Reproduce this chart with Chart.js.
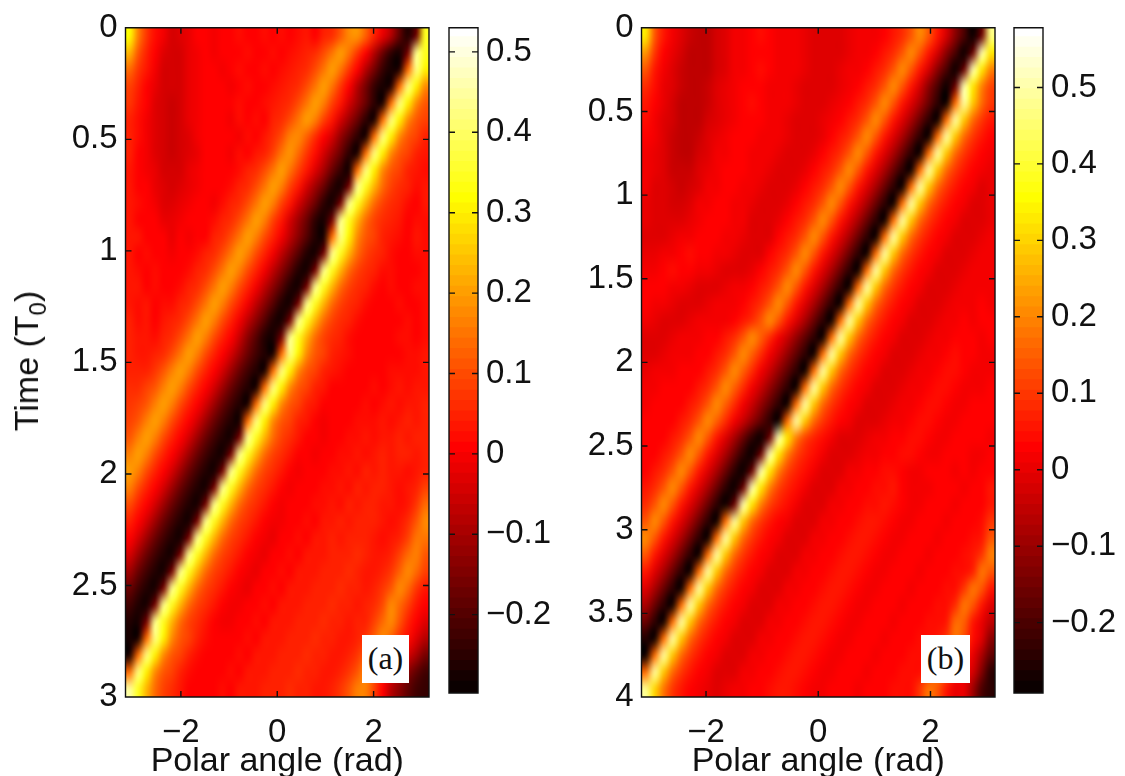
<!DOCTYPE html>
<html>
<head>
<meta charset="utf-8">
<title>Polar angle vs time</title>
<script src="https://cdn.jsdelivr.net/npm/chart.js@4"></script>
<style>
    html, body { margin: 0; padding: 0; background: #fff; overflow: hidden; width: 1125px; height: 776px; }
    canvas { position: absolute; top: 0; }
    .tag { position: absolute; top: 635px; height: 48px; background: #fff; color: #111; text-align: center;
           font: 32px/46px "Liberation Serif", serif; }
    .ylab { position: absolute; left: 26px; top: 361px; transform: translate(-50%, -50%) rotate(-90deg);
            white-space: nowrap; color: #111; font: 34px/40px "Liberation Sans", Arial, sans-serif; }
    .ylab sub { font-size: 24px; line-height: 0; vertical-align: -8px; }
</style>
</head>
<body>
<canvas id="heatA" width="440" height="784" style="left:0"></canvas>
<canvas id="barA" width="115" height="784" style="left:440px"></canvas>
<canvas id="heatB" width="450" height="784" style="left:555px"></canvas>
<canvas id="barB" width="120" height="784" style="left:1005px"></canvas>
<div class="ylab">Time (T<sub>0</sub>)</div>
<div class="tag" style="left:362px;width:47px">(a)</div>
<div class="tag" style="left:921px;width:49px">(b)</div>
<script>
// Tick labels
const angleTicks = [-2, 0, 2];
const timeTicksA = [0, 0.5, 1, 1.5, 2, 2.5, 3];
const timeTicksB = [0, 0.5, 1, 1.5, 2, 2.5, 3, 3.5, 4];
const barTicksA = [-0.2, -0.1, 0, 0.1, 0.2, 0.3, 0.4, 0.5];
const barTicksB = [-0.2, -0.1, 0, 0.1, 0.2, 0.3, 0.4, 0.5];

// Colour limits
const limitsA = [-0.2975, 0.53];
const limitsB = [-0.292, 0.578];

// Panel (a) values, in hundredths, one line per time step
const fieldA = [
[32,16,7,2,-1,-4,-3,-2,0,0,-1,1,0,2,1,0,2,1,2,0,2,3,1,4,6,11,17,19,12,5,-2,-9,-19,-27,-18,34],
[22,11,5,0,-3,-4,-4,-2,-1,0,-1,1,1,0,2,0,1,2,0,2,3,4,6,10,15,20,15,7,0,-8,-17,-25,-28,-16,43,34],
[14,7,3,-1,-4,-5,-4,-2,-1,0,1,-1,1,2,0,1,2,0,2,3,4,6,10,15,20,15,7,0,-8,-16,-24,-28,-27,14,42,30],
[9,5,1,-2,-4,-5,-4,-2,-1,0,1,0,-1,1,2,0,1,2,3,4,6,10,15,20,15,7,0,-8,-16,-24,-28,-27,14,42,30,18],
[7,3,0,-3,-5,-6,-4,-2,-1,0,0,1,0,2,1,0,2,3,4,6,10,15,20,16,9,3,-4,-11,-18,-25,-28,14,42,30,18,11],
[5,2,-1,-3,-5,-6,-5,-2,-1,0,1,0,-1,2,1,2,0,4,6,10,15,20,16,9,3,-4,-11,-18,-25,-28,14,42,30,18,11,8],
[4,2,-1,-3,-5,-6,-4,-3,-1,0,1,0,1,-1,2,1,3,6,10,16,18,12,6,1,-5,-12,-19,-25,-28,14,42,30,18,11,8,5],
[4,1,-1,-3,-4,-6,-4,-3,-2,0,0,1,-1,2,1,3,5,9,15,19,14,7,2,-4,-11,-18,-25,-28,14,42,30,18,11,8,5,3],
[3,1,-1,-2,-4,-5,-4,-2,-1,0,1,0,1,2,4,6,10,15,20,15,8,3,-3,-10,-17,-24,-28,14,42,30,18,11,8,5,3,2],
[3,1,0,-2,-3,-5,-3,-2,-1,1,0,1,2,4,6,10,15,20,16,9,3,-4,-11,-18,-25,-28,-16,43,34,22,14,9,6,4,2,3],
[3,2,0,-1,-3,-3,-2,-1,0,1,-1,2,4,6,10,15,20,16,9,3,-4,-11,-18,-25,-28,-16,43,34,22,14,9,6,4,2,1,3],
[3,1,1,0,-2,-2,-1,0,0,1,2,4,6,10,15,20,16,9,3,-4,-11,-18,-25,-28,-16,43,34,22,14,9,6,4,3,1,2,2],
[3,3,0,1,0,-2,0,-1,1,1,4,6,10,15,20,16,10,5,-1,-7,-13,-20,-26,-28,14,42,30,18,11,8,5,3,2,1,3,2],
[3,1,2,1,1,-1,1,0,2,4,6,10,15,20,16,10,5,-1,-7,-14,-20,-26,-28,-16,43,34,22,14,9,6,4,2,1,0,2,2],
[3,2,0,2,0,1,0,2,4,6,10,15,20,16,10,5,-1,-7,-14,-20,-26,-28,-16,43,34,22,14,9,6,4,2,2,1,1,0,2],
[3,3,1,2,0,1,2,4,6,10,15,20,16,10,5,-1,-7,-14,-20,-26,-28,-16,43,34,22,14,9,6,4,2,1,2,0,1,2,2],
[3,2,3,1,2,2,4,6,10,15,20,16,10,5,-1,-7,-14,-20,-26,-28,-16,43,34,22,14,9,6,4,2,1,1,0,2,1,1,2],
[4,2,3,1,3,4,6,10,15,20,16,10,5,-1,-7,-14,-20,-26,-28,-16,43,34,22,14,9,6,4,2,1,0,1,1,0,2,1,2],
[4,3,3,2,4,6,10,15,20,16,10,5,0,-6,-13,-20,-26,-28,-16,43,34,22,14,9,6,4,2,1,0,0,1,0,2,2,1,2],
[5,3,3,4,6,10,15,20,16,10,5,0,-5,-11,-17,-23,-27,-28,14,42,30,18,11,8,5,3,2,1,0,1,1,1,1,2,2,3],
[5,4,5,7,11,16,20,16,10,5,0,-5,-11,-17,-23,-27,-28,14,42,30,18,11,8,5,3,2,1,0,0,1,1,2,2,2,2,3],
[6,6,8,11,16,20,16,10,5,0,-5,-11,-17,-23,-27,-28,14,42,30,18,11,8,5,3,1,0,0,1,1,2,1,2,3,2,3,3],
[7,8,11,16,20,16,10,5,0,-5,-11,-17,-23,-27,-28,14,42,30,18,11,8,5,3,1,0,0,1,1,2,1,2,3,2,3,3,4],
[8,11,16,20,16,10,5,0,-5,-11,-17,-23,-27,-28,14,42,30,18,11,8,5,3,1,-1,0,1,1,2,2,2,3,2,3,4,3,4],
[11,16,20,16,10,5,0,-5,-11,-17,-23,-27,-28,-16,43,34,22,14,9,6,3,1,0,-1,1,1,2,2,3,2,3,3,4,3,4,4],
[16,20,16,10,5,0,-5,-11,-17,-23,-27,-28,-16,43,34,22,14,9,6,3,1,0,-1,0,1,2,2,3,2,3,4,3,4,4,3,4],
[20,16,10,5,0,-5,-11,-17,-23,-27,-28,-16,43,34,22,14,9,6,3,1,-1,0,1,1,2,2,3,2,4,3,4,3,3,2,3,5],
[16,10,5,0,-5,-11,-17,-23,-27,-28,-16,43,34,22,14,9,6,3,0,-1,0,1,1,2,2,3,2,4,3,4,4,3,2,3,4,8],
[10,5,0,-5,-11,-17,-23,-27,-28,-16,43,34,22,14,9,6,3,0,-1,0,1,1,2,2,3,2,4,3,4,5,3,3,2,3,7,13],
[5,0,-5,-11,-17,-23,-27,-28,-16,43,34,22,14,9,6,3,0,-1,-1,1,1,2,1,3,3,4,3,4,5,4,3,2,3,6,11,17],
[0,-5,-11,-17,-23,-27,-28,-16,43,34,22,14,9,6,3,0,-1,-2,0,1,2,1,3,3,4,3,5,4,5,3,2,3,5,9,15,15],
[-5,-11,-17,-23,-27,-28,-16,43,34,22,14,9,6,3,0,-1,-2,0,1,2,1,3,3,3,4,5,4,6,4,3,3,4,8,14,16,11],
[-11,-17,-23,-27,-28,-16,43,34,22,14,9,6,3,0,-1,-2,0,1,2,1,3,3,3,4,5,4,6,5,3,3,4,7,12,17,13,8],
[-17,-23,-27,-28,-16,43,34,22,14,9,6,3,0,-1,-2,0,1,2,1,3,3,3,4,5,4,6,5,4,3,4,7,11,17,13,7,3],
[-23,-27,-28,-16,43,34,22,14,9,6,3,0,-1,-1,0,1,2,1,3,3,3,4,5,4,6,5,4,3,4,6,10,17,14,8,3,1],
[-27,-28,-16,43,34,22,14,9,6,3,0,-1,-1,0,1,2,1,3,3,3,4,5,4,6,5,4,3,4,5,8,14,17,11,5,1,-3],
[-28,-28,14,42,30,18,11,8,5,2,0,0,0,1,2,1,3,3,3,4,5,4,6,5,4,3,3,5,7,12,17,12,6,2,-3,-9],
[-28,14,42,30,18,11,8,5,2,1,0,1,1,2,1,3,3,3,4,5,4,6,5,4,3,3,4,7,12,17,12,6,0,-5,-10,-16],
[14,42,30,18,11,8,5,2,1,0,1,1,2,1,3,3,3,4,5,4,6,5,4,3,3,4,7,11,17,11,4,-2,-8,-14,-19,-22],
[44,34,22,14,9,6,3,1,1,0,1,2,1,3,3,3,4,5,4,6,5,4,3,3,4,7,11,16,16,8,0,-8,-14,-19,-23,-24]
];

// Panel (b) values, in hundredths, one line per time step
const fieldB = [
[33,14,5,1,-2,-4,-5,-5,-3,-1,1,2,3,4,3,2,2,1,0,-1,-2,-2,-1,0,1,1,2,3,5,8,13,20,14,5,-3,-12,-21,-28,-16,46],
[22,9,3,0,-3,-5,-5,-5,-3,-1,1,2,3,3,3,2,2,1,0,-1,-2,-2,-1,0,1,2,3,5,8,13,20,14,5,-3,-12,-21,-28,-16,50,32],
[14,6,1,-1,-4,-5,-6,-5,-3,-1,1,2,3,4,3,2,1,1,0,-1,-2,-1,0,1,2,3,5,8,13,20,14,5,-3,-12,-21,-28,-16,50,32,19],
[8,4,0,-2,-4,-6,-6,-4,-2,0,1,3,3,3,2,2,1,0,-1,-2,-2,-1,0,1,3,5,8,13,20,14,5,-3,-12,-21,-28,-16,50,32,19,11],
[5,3,0,-3,-5,-6,-5,-4,-2,0,2,3,4,3,2,2,1,0,-1,-2,-1,0,1,3,5,8,13,20,14,6,-1,-8,-16,-24,-28,16,49,28,16,10],
[4,2,-1,-3,-5,-6,-5,-3,-1,0,2,3,3,3,2,1,0,-1,-2,-1,0,1,3,5,8,13,20,14,6,-1,-8,-16,-24,-28,16,49,28,16,10,5],
[3,1,-2,-4,-5,-6,-4,-2,0,1,3,3,3,2,2,1,0,-1,-2,-1,0,3,5,8,13,20,14,6,-1,-8,-16,-24,-28,16,49,28,16,10,5,3],
[2,0,-2,-4,-5,-5,-3,-1,1,2,3,3,2,2,1,0,-1,-2,-1,0,3,5,8,13,20,14,6,-1,-8,-16,-24,-28,16,49,28,16,10,5,3,1],
[1,0,-2,-4,-4,-4,-2,0,1,3,3,3,2,1,0,-1,-2,-1,0,3,5,8,13,20,14,6,-1,-8,-16,-24,-28,16,49,28,16,10,5,3,1,0],
[1,-1,-2,-3,-4,-3,-1,1,2,3,3,2,2,0,-1,-2,-1,0,3,5,8,13,20,14,6,-1,-8,-16,-24,-28,16,49,28,16,10,5,3,1,-1,0],
[0,-1,-2,-3,-3,-1,1,2,3,3,2,1,0,-1,-2,-1,0,3,5,8,13,20,14,6,-1,-8,-16,-24,-28,16,49,28,16,10,5,3,1,-1,-1,0],
[0,-1,-2,-2,-1,0,2,3,3,3,2,1,-1,-2,-2,0,3,5,8,13,20,14,6,-1,-8,-16,-24,-28,16,49,28,16,10,5,3,1,-1,-2,-1,0],
[-1,-1,-1,0,1,2,3,3,3,2,1,0,-1,-2,-1,3,5,8,13,20,14,6,-1,-8,-16,-24,-28,16,49,28,16,10,5,3,1,-1,-2,-1,0,1],
[0,0,1,2,3,4,3,3,2,1,0,-1,-2,-1,3,5,8,13,20,14,6,-1,-8,-16,-24,-28,16,49,28,16,10,5,3,1,-1,-2,-1,0,1,1],
[1,2,3,4,3,3,2,1,0,-1,-2,-1,0,3,5,8,13,20,14,6,-1,-8,-16,-24,-28,16,49,28,16,10,5,3,1,-1,-2,-1,0,1,1,2],
[3,3,3,2,1,0,-1,-2,-1,0,1,2,3,5,8,13,20,14,6,-1,-8,-16,-24,-28,16,49,28,16,10,5,3,1,-1,-2,-1,0,1,1,2,2],
[3,2,1,0,-1,-2,-1,0,1,1,2,3,5,8,13,20,14,6,-1,-8,-16,-24,-28,16,49,28,16,10,5,3,1,-1,-2,-1,0,1,2,2,3,2],
[1,0,-1,-2,-1,0,1,1,2,2,3,5,8,13,20,14,6,-1,-8,-16,-24,-28,16,49,28,16,10,5,3,1,-1,-2,-1,0,1,2,3,2,3,3],
[-1,-2,-1,0,1,2,2,3,3,5,8,13,20,15,8,2,-4,-11,-18,-25,-28,16,49,28,16,10,5,3,1,-1,-2,-1,0,1,2,3,3,3,2,3],
[-2,-1,0,1,2,2,3,3,5,8,13,20,15,8,2,-4,-11,-18,-25,-28,16,49,28,16,10,5,3,1,-1,-2,-1,0,1,2,3,4,3,3,2,2],
[0,1,2,2,3,3,3,5,8,13,20,15,8,2,-4,-11,-18,-25,-28,16,49,28,16,10,5,3,1,-1,-2,-1,0,1,2,3,4,4,3,2,2,2],
[2,2,3,3,3,3,5,8,13,20,15,8,2,-4,-11,-18,-25,-28,16,49,28,16,10,5,3,1,-1,-2,-1,0,1,2,3,4,4,3,2,2,2,3],
[2,3,3,3,3,5,8,13,20,15,8,2,-4,-11,-18,-25,-28,16,49,28,16,10,5,3,1,-1,-2,-1,0,1,2,3,4,4,3,2,2,3,3,3],
[3,3,3,3,5,8,13,20,15,8,2,-4,-11,-18,-25,-28,16,49,28,16,10,5,3,1,-1,-2,-1,0,1,2,3,4,4,3,2,2,3,3,3,3],
[3,3,3,5,8,13,20,14,6,-1,-8,-16,-24,-28,-16,50,32,19,11,7,4,2,-1,-2,-1,0,1,2,3,3,4,4,3,2,2,3,3,3,3,2],
[3,3,5,8,13,20,14,6,-1,-8,-16,-24,-28,-16,50,32,19,11,7,4,2,-1,-2,-1,0,1,2,3,3,4,4,3,2,2,3,3,3,2,2,3],
[3,5,8,13,20,14,6,-1,-8,-16,-24,-28,-16,50,32,19,11,7,4,2,-1,-2,-1,1,2,3,3,4,4,3,2,2,3,3,3,2,3,2,3,3],
[5,8,13,20,14,6,-1,-8,-16,-24,-28,-16,50,32,19,11,7,4,2,-1,-2,-1,1,2,3,3,4,4,5,3,2,2,2,3,3,3,2,3,3,5],
[8,13,20,14,6,-1,-8,-16,-24,-28,-16,50,32,19,11,7,4,2,-1,-2,-1,1,2,3,3,4,4,5,4,3,2,2,3,3,3,2,3,3,3,6],
[13,20,14,6,-1,-8,-16,-24,-28,16,49,28,16,10,5,3,1,-1,-2,-1,1,2,3,3,4,5,5,4,3,2,2,3,3,3,2,3,3,3,4,9],
[20,14,6,-1,-8,-16,-24,-28,16,49,28,16,10,5,3,1,-1,-2,-1,1,2,3,3,4,5,5,4,3,2,2,3,3,3,2,3,3,3,4,6,13],
[14,6,-1,-8,-16,-24,-28,16,49,28,16,10,5,3,1,-1,-2,-1,1,2,3,3,4,5,5,4,3,2,2,3,3,3,2,3,3,3,4,5,10,19],
[6,-1,-8,-16,-24,-28,16,49,28,16,10,5,3,1,-1,-2,-1,1,2,3,3,4,5,5,4,3,2,2,3,3,3,2,3,3,3,4,4,7,18,13],
[-1,-8,-16,-24,-28,16,49,28,16,10,5,3,1,-1,-2,-1,1,2,3,3,4,5,5,4,3,2,2,3,3,3,2,3,3,3,4,4,9,18,13,5],
[-8,-16,-24,-28,16,49,28,16,10,5,3,1,-1,-2,-1,1,2,3,3,4,5,5,4,3,2,2,3,3,3,2,3,3,3,4,4,8,18,14,5,-1],
[-16,-24,-28,16,49,28,16,10,5,3,1,-1,-2,-1,1,2,3,3,4,5,5,4,3,2,2,3,3,3,2,3,3,3,4,4,6,16,15,6,0,-6],
[-26,-28,16,49,28,16,10,5,3,1,-1,-2,-1,1,2,3,3,4,5,5,4,3,2,2,3,3,3,2,3,3,3,4,4,5,9,18,12,4,-2,-12],
[-28,16,49,28,16,10,5,3,1,-1,-2,-1,1,2,3,3,4,5,5,4,3,2,2,3,3,3,2,3,3,3,4,4,4,8,18,13,5,0,-8,-18],
[16,49,28,16,10,5,3,1,-1,-2,-1,1,2,3,3,4,5,5,4,3,2,2,3,3,3,2,3,3,3,4,4,4,8,18,13,6,2,-3,-14,-24],
[48,30,18,10,6,3,1,0,-1,0,1,2,3,3,4,5,5,4,3,2,2,3,3,3,2,3,3,3,4,4,4,9,18,13,6,0,0,-10,-20,-25]
];

const tickFont = { family: '"Liberation Sans", Arial, sans-serif', size: 33 };
const titleFont = { family: '"Liberation Sans", Arial, sans-serif', size: 34 };
const angleLimit = 3.15;
const tickLen = 6;

// MATLAB "hot", 64 steps
function hotColor(v, limits) {
    let t = (v - limits[0]) / (limits[1] - limits[0]);
    let k = Math.max(0, Math.min(63, Math.floor(t * 64))) + 1;
    let r = Math.min(1, k / 24), g = Math.max(0, Math.min(1, (k - 24) / 24)), b = Math.max(0, (k - 48) / 16);
    return `rgb(${Math.round(r * 255)},${Math.round(g * 255)},${Math.round(b * 255)})`;
}

function minusLabel(value) {
    return String(value).replace('-', '\u2212');
}

// Paints the cells of the first dataset, placed with the chart's scales
const heatPlugin = {
    id: 'heatCells',
    beforeDatasetsDraw(chart) {
        const ds = chart.data.datasets[0];
        if (!ds.limits) return;
        const off = document.createElement('canvas');
        off.width = ds.cols;
        off.height = ds.rows;
        const c = off.getContext('2d');
        ds.data.forEach((p, n) => {
            c.fillStyle = hotColor(p.v, ds.limits);
            c.fillRect(n % ds.cols, Math.floor(n / ds.cols), 1, 1);
        });
        const x = chart.scales.x, y = chart.scales.y;
        const ctx = chart.ctx;
        ctx.save();
        ctx.imageSmoothingEnabled = true;
        ctx.imageSmoothingQuality = 'high';
        ctx.drawImage(off, x.getPixelForValue(x.min), y.getPixelForValue(y.min),
            x.getPixelForValue(x.max) - x.getPixelForValue(x.min),
            y.getPixelForValue(y.max) - y.getPixelForValue(y.min));
        ctx.restore();
    }
};

// Black box with the inward ticks on all four sides
const boxPlugin = {
    id: 'boxTicks',
    afterDatasetsDraw(chart) {
        const a = chart.chartArea, ctx = chart.ctx;
        ctx.save();
        ctx.strokeStyle = '#111';
        ctx.lineWidth = 1.4;
        ctx.beginPath();
        Object.values(chart.scales).forEach(s => {
            if (s.type !== 'linear') return;
            s.ticks.forEach(t => {
                const p = s.getPixelForValue(t.value);
                if (s.isHorizontal()) {
                    ctx.moveTo(p, a.top); ctx.lineTo(p, a.top + tickLen);
                    ctx.moveTo(p, a.bottom); ctx.lineTo(p, a.bottom - tickLen);
                } else {
                    ctx.moveTo(a.left, p); ctx.lineTo(a.left + tickLen, p);
                    ctx.moveTo(a.right, p); ctx.lineTo(a.right - tickLen, p);
                }
            });
        });
        ctx.rect(a.left, a.top, a.right - a.left, a.bottom - a.top);
        ctx.stroke();
        ctx.restore();
    }
};

function linearTicks(padding) {
    return { font: tickFont, color: '#111', padding: padding, autoSkip: false, maxRotation: 0,
             callback: minusLabel, includeBounds: false };
}

// Heat map panel: field rows become points of a scatter dataset
function drawHeat(id, field, limits, timeTicks, timeMax, leftWidth, rightPad) {
    const rows = field.length, cols = field[0].length;
    const cells = [];
    field.forEach((row, j) => row.forEach((val, i) => {
        cells.push({
            x: -angleLimit + (i + 0.5) * 2 * angleLimit / cols,
            y: (j + 0.5) * timeMax / rows,
            v: val / 100
        });
    }));
    new Chart(document.getElementById(id), {
        type: 'scatter',
        data: { datasets: [{ data: cells, cols: cols, rows: rows, limits: limits, pointRadius: 0 }] },
        options: {
            responsive: false,
            animation: false,
            layout: { padding: { top: 23.5, right: rightPad, left: 0, bottom: 0 } },
            plugins: { legend: { display: false }, tooltip: { enabled: false } },
            scales: {
                x: {
                    type: 'linear', min: -angleLimit, max: angleLimit,
                    grid: { display: false, drawTicks: false },
                    border: { display: false },
                    ticks: linearTicks(16),
                    afterBuildTicks: s => { s.ticks = angleTicks.map(v => ({ value: v })); },
                    afterFit: s => { s.height = 87; },
                    title: { display: true, text: 'Polar angle (rad)', font: titleFont, color: '#111', padding: { top: 0, bottom: 2 } }
                },
                y: {
                    type: 'linear', reverse: true, min: 0, max: timeMax,
                    grid: { display: false, drawTicks: false },
                    border: { display: false },
                    ticks: linearTicks(8),
                    afterBuildTicks: s => { s.ticks = timeTicks.map(v => ({ value: v })); },
                    afterFit: s => { s.width = leftWidth; }
                }
            }
        },
        plugins: [heatPlugin, boxPlugin]
    });
}

// Colorbar: 64 floating bars, one for each colour step
function drawBar(id, limits, barTicks, leftPad, barWidth) {
    const step = (limits[1] - limits[0]) / 64;
    const sets = [];
    for (let k = 0; k < 64; k++) {
        const lo = limits[0] + k * step;
        sets.push({
            data: [[lo, lo + step * 1.15]],
            backgroundColor: hotColor(lo + step / 2, limits),
            barPercentage: 1, categoryPercentage: 1, grouped: false, borderWidth: 0
        });
    }
    const canvas = document.getElementById(id);
    new Chart(canvas, {
        type: 'bar',
        data: { labels: [''], datasets: sets },
        options: {
            responsive: false,
            animation: false,
            layout: { padding: { top: 23, left: leftPad, right: 0, bottom: 91 } },
            plugins: { legend: { display: false }, tooltip: { enabled: false } },
            scales: {
                x: { display: false },
                y: {
                    position: 'right', type: 'linear', min: limits[0], max: limits[1],
                    grid: { display: false, drawTicks: false },
                    border: { display: false },
                    ticks: linearTicks(8),
                    afterBuildTicks: s => { s.ticks = barTicks.map(v => ({ value: v })); },
                    afterFit: s => { s.width = canvas.width - leftPad - barWidth; }
                }
            }
        },
        plugins: [boxPlugin]
    });
}

drawHeat('heatA', fieldA, limitsA, timeTicksA, 3, 125.5, 11);
drawBar('barA', limitsA, barTicksA, 9, 29);
drawHeat('heatB', fieldB, limitsB, timeTicksB, 4, 86.5, 10);
drawBar('barB', limitsB, barTicksB, 9, 29);
</script>
</body>
</html>
